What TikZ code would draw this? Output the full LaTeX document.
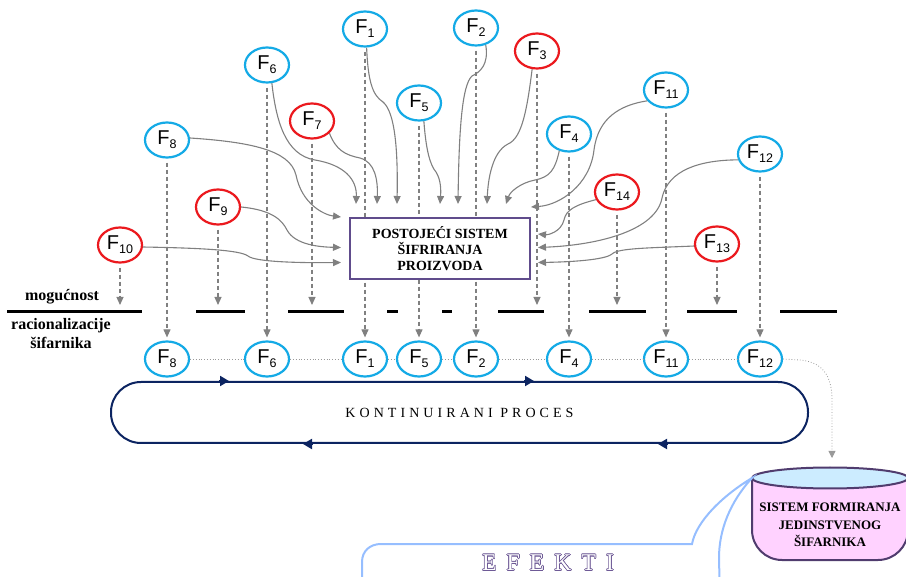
\documentclass[tikz,border=0pt]{standalone}
\usepackage{fontspec}
\setmainfont{Liberation Serif}
\newfontfamily\sansf{Liberation Sans}
\newfontfamily\spacedf[LetterSpace=29]{Liberation Serif}
\newfontfamily\efektif[LetterSpace=16]{Liberation Serif}
\usepackage[copies]{contour}
\contourlength{0.6pt}
\usetikzlibrary{arrows.meta,shapes.geometric,positioning}
\definecolor{fblue}{RGB}{20,170,230}
\definecolor{fred}{RGB}{235,25,30}
\definecolor{arrgray}{RGB}{128,128,128}
\definecolor{boxpurple}{RGB}{96,76,140}
\definecolor{loopnavy}{RGB}{12,36,97}
\definecolor{cylblue}{RGB}{204,236,255}
\definecolor{cylpink}{RGB}{255,210,255}
\definecolor{cylborder}{RGB}{80,60,110}
\definecolor{callblue}{RGB}{150,190,255}
\definecolor{efpurple}{RGB}{110,90,150}
\newcommand{\fsub}[1]{{\sansf\fontsize{20}{20}\selectfont F\raisebox{-4pt}{\fontsize{12.5}{12.5}\selectfont #1}}}

\begin{document}
\begin{tikzpicture}[x=1pt, y=-1pt,
      bcirc/.style={draw=fblue, ellipse, line width=2.2pt, fill=white,
                    minimum width=44pt, minimum height=35pt, inner sep=0pt},
      rcirc/.style={bcirc, draw=fred},
      dline/.style={draw=arrgray, line width=1.1pt, dash pattern=on 4pt off 3pt,
                    -{Triangle[length=8pt,width=7pt]}, shorten <=4pt},
      garr/.style={draw=arrgray, line width=1.1pt, -{Triangle[length=8pt,width=7pt]}},
      dotl/.style={draw=arrgray!80, line width=0.8pt, dotted},
      barl/.style={line width=3pt},
      sysbox/.style={draw=boxpurple, line width=2pt, fill=white, minimum width=180pt,
                     minimum height=61pt, align=center, font=\bfseries\fontsize{14}{16}\selectfont},
      lbl/.style={align=center, font=\bfseries\fontsize{16}{19}\selectfont},
      loopbox/.style={draw=loopnavy, line width=2pt, rounded corners=30pt,
                      minimum width=697pt, minimum height=61pt,
                      font=\spacedf\fontsize{14}{14}\selectfont},
      looparr/.style={draw=loopnavy, line width=2pt, -{Triangle[length=9pt,width=10pt]}},
      cylline/.style={draw=cylborder, line width=2pt},
      callout/.style={draw=callblue, line width=2pt}
    ]
    \useasboundingbox (0,0) rectangle (906,577);

    % faktori gore
    \foreach \i/\px/\py/\s in {1/365/29/bcirc, 2/476/28/bcirc, 3/537/51/rcirc,
        4/569/134/bcirc, 5/419/103/bcirc, 6/267/65/bcirc, 7/312/121/rcirc,
        8/167/140/bcirc, 9/218/207/rcirc, 10/120/245/rcirc, 11/666/90/bcirc,
        12/760/154/bcirc, 13/717/244/rcirc, 14/617/192/rcirc}
      \node[\s] (f\i) at (\px,\py) {\fsub{\i}};

    % faktori dole
    \coordinate (row) at (0,359);
    \coordinate (bar) at (0,312);
    \foreach \i in {8,6,1,5,2,4,11,12}
      \node[bcirc] (b\i) at (f\i |- row) {\fsub{\i}};

    \foreach \i in {8,6,1,5,2,4,11,12}
      \draw[dline, shorten >=3pt] (f\i.south) -- (b\i.north);
    \foreach \i in {10,9,7,3,14,13}
      \draw[dline, shorten >=7pt] (f\i.south) -- (f\i.south |- bar);

    \draw[dotl] (b8) -- (b6) -- (b1) -- (b5) -- (b2) -- (b4) -- (b11) -- (b12);

    \node[sysbox] (sys) at (440,248.5) {POSTOJEĆI SISTEM\\ŠIFRIRANJA\\PROIZVODA};

    % uticaji na postojeci sistem
    \draw[garr] (f6.-75) .. controls (276,120) and (285,155) .. (315,160)
      .. controls (345,165) and (357,180) .. ([xshift=7pt,yshift=13pt]sys.north west);
    \draw[garr] (f7.-35) .. controls (336,150) and (345,155) .. (360,158)
      .. controls (375,162) and (378,180) .. ([xshift=28pt,yshift=13pt]sys.north west);
    \draw[garr] (f1.-85) .. controls (368,80) and (372,95) .. (383,102)
      .. controls (395,112) and (398,150) .. ([xshift=48pt,yshift=13pt]sys.north west);
    \draw[garr] (f5.-75) .. controls (426,150) and (430,165) .. (436,172)
      .. controls (441,180) and (441,190) .. ([xshift=91pt,yshift=13pt]sys.north west);
    \draw[garr] (f2.-60) .. controls (489,65) and (480,72) .. (472,76)
      .. controls (462,85) and (459,130) .. ([xshift=109pt,yshift=13pt]sys.north west);
    \draw[garr] (f3.-105) .. controls (527,110) and (522,138) .. (508,144)
      .. controls (492,152) and (488,180) .. ([xshift=138pt,yshift=13pt]sys.north west);
    \draw[garr] (f4.-120) .. controls (555,170) and (550,177) .. (535,180)
      .. controls (520,183) and (510,192) .. ([xshift=157pt,yshift=13pt]sys.north west);
    \draw[garr] (f11.-150) .. controls (620,105) and (598,118) .. (594,150)
      .. controls (590,185) and (560,205) .. ([yshift=10pt]sys.north east);
    \draw[garr] (f14.-160) .. controls (575,205) and (566,210) .. (564,220)
      .. controls (561,232) and (548,235) .. ([xshift=7pt,yshift=-17pt]sys.north east);
    \draw[garr] (f12.-165) .. controls (700,160) and (668,170) .. (662,198)
      .. controls (656,230) and (600,245) .. ([xshift=7pt,yshift=1pt]sys.east);
    \draw[garr] (f13.-175) .. controls (650,248) and (618,248) .. (612,254)
      .. controls (605,260) and (570,262) .. ([xshift=7pt,yshift=-14pt]sys.east);
    \draw[garr] (f8.5) .. controls (250,142) and (290,150) .. (296,175)
      .. controls (302,205) and (325,215) .. ([xshift=-8pt]sys.north west);
    \draw[garr] (f9.east) .. controls (272,210) and (282,220) .. (287,230)
      .. controls (295,245) and (320,247) .. ([xshift=-8pt,yshift=1pt]sys.west);
    \draw[garr] (f10.-5) .. controls (200,248) and (240,250) .. (248,256)
      .. controls (255,262) and (300,263) .. ([xshift=-8pt,yshift=-14pt]sys.west);

    % granica mogucnosti
    \foreach \a/\b in {7/142,196/245,288/344,387/398,442/452,498/544,589/646,687/737,780/837}
      \draw[barl] (\a,312) -- (\b,312);
    \node[lbl] (mog) at (62,297) {mogućnost};
    \node[lbl] (rac) at (61,334) {racionalizacije\\šifarnika};

    % kontinuirani proces
    \node[loopbox] (proc) at (459.5,412.5) {KONTINUIRANI PROCES};
    \foreach \a/\b in {109/119, 414/424}
      \draw[looparr] ([xshift=\a pt]proc.north west) -- ([xshift=\b pt]proc.north west);
    \foreach \a/\b in {203/193, 558/548}
      \draw[looparr] ([xshift=\a pt]proc.south west) -- ([xshift=\b pt]proc.south west);

    % sistem formiranja
    \coordinate (cyltop) at (832,468);
    \coordinate (cylleft) at (752,478);
    \draw[cylline, fill=cylpink, rounded corners=30pt]
      (752,478) -- (752,560) -- (908,560) -- (908,478);
    \draw[cylline, fill=cylblue] (830,478) ellipse [x radius=78, y radius=10.5];
    \node[align=center, font=\bfseries\fontsize{13}{17.5}\selectfont] (cyl) at (830,525)
      {SISTEM FORMIRANJA\\JEDINSTVENOG\\ŠIFARNIKA};
    \draw[dotl, -{Triangle[length=7pt,width=7pt]}] (b12.east) -- (800,360)
      .. controls (822,362) and (832,375) .. (832,400) -- ([yshift=10pt]cyltop);

    % efekti
    \draw[callout] (362,600) -- (362,562) .. controls (362,551) and (370,544) .. (381,544)
      -- (692,544) .. controls (696,522) and (722,496) .. (cylleft)
      .. controls (730,502) and (719,530) .. (719,558) -- (720,600);
    \node[font=\efektif\fontsize{24}{24}\selectfont] (eff) at (548,563)
      {\contour{efpurple}{\textcolor{white}{E F E K T I}}};
  \end{tikzpicture}
\end{document}
